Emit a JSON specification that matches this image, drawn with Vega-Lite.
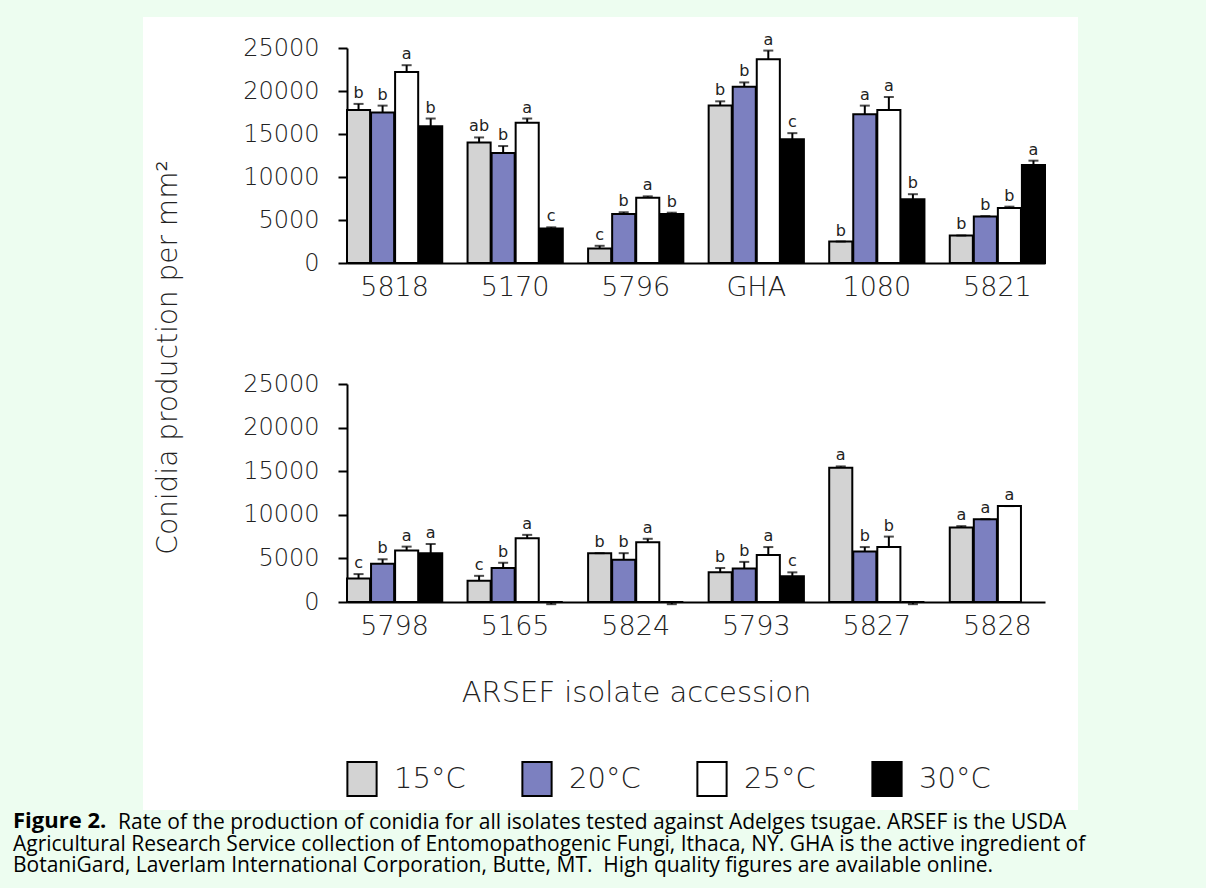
{
  "$schema": "https://vega.github.io/schema/vega-lite/v6.json",
  "background": "#EDFDF0",
  "padding": {"left": 13, "top": 17, "right": 128, "bottom": 12},
  "bounds": "flush",
  "spacing": 0,
  "title": {
    "text": "Figure 2.",
    "subtitle": [
      "\u2800\u2800\u2800\u2800\u2800\u2800\u2800Rate of the production of conidia for all isolates tested against Adelges tsugae. ARSEF is the USDA",
      "Agricultural Research Service collection of Entomopathogenic Fungi, Ithaca, NY. GHA is the active ingredient of",
      "BotaniGard, Laverlam International Corporation, Butte, MT.\u00a0 High quality figures are available online."
    ],
    "orient": "bottom",
    "anchor": "start",
    "frame": "bounds",
    "offset": 1,
    "dx": -130,
    "font": "Open Sans",
    "fontSize": 22,
    "fontWeight": "bold",
    "color": "black",
    "lineHeight": 20,
    "subtitleFont": "Open Sans",
    "subtitleFontSize": 21,
    "subtitleColor": "black",
    "subtitleLineHeight": 21.5,
    "subtitlePadding": -21
  },
  "datasets": {
    "bars": [
      {"p": 1, "iso": "5818", "temp": "15°C", "value": 17800, "err": 18500, "letter": "b"},
      {"p": 1, "iso": "5818", "temp": "20°C", "value": 17500, "err": 18300, "letter": "b"},
      {"p": 1, "iso": "5818", "temp": "25°C", "value": 22200, "err": 23000, "letter": "a"},
      {"p": 1, "iso": "5818", "temp": "30°C", "value": 15900, "err": 16800, "letter": "b"},
      {"p": 1, "iso": "5170", "temp": "15°C", "value": 14000, "err": 14600, "letter": "ab"},
      {"p": 1, "iso": "5170", "temp": "20°C", "value": 12800, "err": 13600, "letter": "b"},
      {"p": 1, "iso": "5170", "temp": "25°C", "value": 16300, "err": 16800, "letter": "a"},
      {"p": 1, "iso": "5170", "temp": "30°C", "value": 4000, "err": 4150, "letter": "c"},
      {"p": 1, "iso": "5796", "temp": "15°C", "value": 1700, "err": 2000, "letter": "c"},
      {"p": 1, "iso": "5796", "temp": "20°C", "value": 5700, "err": 5900, "letter": "b"},
      {"p": 1, "iso": "5796", "temp": "25°C", "value": 7600, "err": 7750, "letter": "a"},
      {"p": 1, "iso": "5796", "temp": "30°C", "value": 5700, "err": 5850, "letter": "b"},
      {"p": 1, "iso": "GHA", "temp": "15°C", "value": 18300, "err": 18800, "letter": "b"},
      {"p": 1, "iso": "GHA", "temp": "20°C", "value": 20500, "err": 21000, "letter": "b"},
      {"p": 1, "iso": "GHA", "temp": "25°C", "value": 23700, "err": 24700, "letter": "a"},
      {"p": 1, "iso": "GHA", "temp": "30°C", "value": 14400, "err": 15100, "letter": "c"},
      {"p": 1, "iso": "1080", "temp": "15°C", "value": 2500, "err": 2500, "letter": "b"},
      {"p": 1, "iso": "1080", "temp": "20°C", "value": 17300, "err": 18300, "letter": "a"},
      {"p": 1, "iso": "1080", "temp": "25°C", "value": 17800, "err": 19300, "letter": "a"},
      {"p": 1, "iso": "1080", "temp": "30°C", "value": 7400, "err": 8000, "letter": "b"},
      {"p": 1, "iso": "5821", "temp": "15°C", "value": 3200, "err": 3200, "letter": "b"},
      {"p": 1, "iso": "5821", "temp": "20°C", "value": 5400, "err": 5450, "letter": "b"},
      {"p": 1, "iso": "5821", "temp": "25°C", "value": 6400, "err": 6550, "letter": "b"},
      {"p": 1, "iso": "5821", "temp": "30°C", "value": 11400, "err": 11900, "letter": "a"},
      {"p": 2, "iso": "5798", "temp": "15°C", "value": 2700, "err": 3200, "letter": "c"},
      {"p": 2, "iso": "5798", "temp": "20°C", "value": 4400, "err": 4900, "letter": "b"},
      {"p": 2, "iso": "5798", "temp": "25°C", "value": 5900, "err": 6350, "letter": "a"},
      {"p": 2, "iso": "5798", "temp": "30°C", "value": 5600, "err": 6650, "letter": "a"},
      {"p": 2, "iso": "5165", "temp": "15°C", "value": 2450, "err": 3000, "letter": "c"},
      {"p": 2, "iso": "5165", "temp": "20°C", "value": 3900, "err": 4500, "letter": "b"},
      {"p": 2, "iso": "5165", "temp": "25°C", "value": 7300, "err": 7700, "letter": "a"},
      {"p": 2, "iso": "5165", "temp": "30°C", "value": 0, "err": -250, "letter": ""},
      {"p": 2, "iso": "5824", "temp": "15°C", "value": 5600, "err": 5600, "letter": "b"},
      {"p": 2, "iso": "5824", "temp": "20°C", "value": 4850, "err": 5600, "letter": "b"},
      {"p": 2, "iso": "5824", "temp": "25°C", "value": 6850, "err": 7250, "letter": "a"},
      {"p": 2, "iso": "5824", "temp": "30°C", "value": 0, "err": -250, "letter": ""},
      {"p": 2, "iso": "5793", "temp": "15°C", "value": 3400, "err": 3900, "letter": "b"},
      {"p": 2, "iso": "5793", "temp": "20°C", "value": 3850, "err": 4600, "letter": "b"},
      {"p": 2, "iso": "5793", "temp": "25°C", "value": 5400, "err": 6300, "letter": "a"},
      {"p": 2, "iso": "5793", "temp": "30°C", "value": 2950, "err": 3400, "letter": "c"},
      {"p": 2, "iso": "5827", "temp": "15°C", "value": 15400, "err": 15550, "letter": "a"},
      {"p": 2, "iso": "5827", "temp": "20°C", "value": 5800, "err": 6300, "letter": "b"},
      {"p": 2, "iso": "5827", "temp": "25°C", "value": 6300, "err": 7500, "letter": "b"},
      {"p": 2, "iso": "5827", "temp": "30°C", "value": 0, "err": -250, "letter": ""},
      {"p": 2, "iso": "5828", "temp": "15°C", "value": 8550, "err": 8700, "letter": "a"},
      {"p": 2, "iso": "5828", "temp": "20°C", "value": 9500, "err": 9500, "letter": "a"},
      {"p": 2, "iso": "5828", "temp": "25°C", "value": 11000, "err": 11000, "letter": "a"}
    ]
  },
  "config": {
    "view": {"stroke": null, "fill": "white"},
    "axis": {
      "grid": false,
      "domainColor": "black",
      "domainWidth": 2,
      "tickColor": "black",
      "tickWidth": 2,
      "labelColor": "#222222",
      "titleColor": "#222222",
      "labelFontWeight": 200,
      "titleFontWeight": 200
    }
  },
  "resolve": {
    "scale": {"color": "independent", "x": "independent", "y": "independent", "xOffset": "independent"},
    "legend": {"color": "independent"}
  },
  "vconcat": [
    {
      "width": 935,
      "height": 313,
      "data": {"name": "bars"},
      "transform": [{"filter": "datum.p == 1"}],
      "encoding": {
        "x": {
          "field": "iso", "type": "nominal", "sort": null,
          "scale": {"range": [204, 902], "paddingInner": 0.21, "paddingOuter": 0},
          "axis": {"title": null, "orient": "bottom", "offset": -67, "ticks": false, "tickSize": 0, "labelAngle": 0, "labelFont": "DejaVu Sans", "labelFontSize": 27, "labelPadding": 11}
        },
        "xOffset": {"field": "temp", "type": "nominal", "sort": ["15°C", "20°C", "25°C", "30°C"], "scale": {"paddingInner": 0.04}}
      },
      "layer": [
        {
          "mark": {"type": "bar", "stroke": "black", "strokeWidth": 2},
          "encoding": {
            "y": {
              "field": "value", "type": "quantitative",
              "scale": {"domain": [0, 25000], "range": [246, 31], "nice": false},
              "axis": {"title": null, "orient": "left", "offset": -204, "values": [0, 5000, 10000, 15000, 20000, 25000], "format": "d", "tickSize": 9, "labelFont": "DejaVu Sans", "labelFontSize": 24, "labelPadding": 19, "labelOverlap": false}
            },
            "color": {
              "field": "temp", "type": "nominal",
              "scale": {"domain": ["15°C", "20°C", "25°C", "30°C"], "range": ["#D3D3D3", "#7C80C0", "#FFFFFF", "#000000"]},
              "legend": null
            }
          }
        },
        {
          "mark": {"type": "rule", "strokeWidth": 2, "color": "black"},
          "encoding": {"y": {"field": "value", "type": "quantitative"}, "y2": {"field": "err"}}
        },
        {
          "mark": {"type": "tick", "thickness": 2, "size": 10, "color": "black"},
          "encoding": {"y": {"field": "err", "type": "quantitative"}}
        },
        {
          "mark": {"type": "text", "baseline": "bottom", "dy": -3, "font": "DejaVu Sans", "fontSize": 16, "color": "#222222"},
          "encoding": {"y": {"field": "err", "type": "quantitative"}, "text": {"field": "letter"}}
        }
      ]
    },
    {
      "width": 935,
      "height": 480,
      "data": {"name": "bars"},
      "transform": [{"filter": "datum.p == 2"}],
      "encoding": {
        "x": {
          "field": "iso", "type": "nominal", "sort": null,
          "scale": {"range": [204, 902], "paddingInner": 0.21, "paddingOuter": 0},
          "axis": {"title": "ARSEF isolate accession", "orient": "bottom", "offset": -208, "ticks": false, "tickSize": 0, "labelAngle": 0, "labelFont": "DejaVu Sans", "labelFontSize": 27, "labelPadding": 11, "titleFont": "DejaVu Sans", "titleFontSize": 29, "titleX": 493, "titleY": 90, "titleAlign": "center", "titleBaseline": "middle"}
        },
        "xOffset": {"field": "temp", "type": "nominal", "sort": ["15°C", "20°C", "25°C", "30°C"], "scale": {"paddingInner": 0.04}}
      },
      "layer": [
        {
          "mark": {"type": "bar", "stroke": "black", "strokeWidth": 2},
          "encoding": {
            "y": {
              "field": "value", "type": "quantitative",
              "scale": {"domain": [0, 25000], "range": [272, 54], "nice": false},
              "axis": {"title": "Conidia production per mm²", "orient": "left", "offset": -204, "values": [0, 5000, 10000, 15000, 20000, 25000], "format": "d", "tickSize": 9, "labelFont": "DejaVu Sans", "labelFontSize": 24, "labelPadding": 19, "labelOverlap": false, "titleFont": "DejaVu Sans", "titleFontSize": 28, "titleX": -179, "titleY": 27, "titleAngle": 270, "titleAlign": "center", "titleBaseline": "middle"}
            },
            "color": {
              "field": "temp", "type": "nominal",
              "scale": {"domain": ["15°C", "20°C", "25°C", "30°C"], "range": ["#D3D3D3", "#7C80C0", "#FFFFFF", "#000000"]},
              "legend": {
                "title": null, "orient": "none", "legendX": 201, "legendY": 431, "direction": "horizontal", "columns": 4,
                "padding": 0, "symbolType": "M-0.86,-1H0.86V1H-0.86Z", "symbolSize": 1156, "symbolStrokeColor": "black", "symbolStrokeWidth": 2, "symbolOpacity": 1,
                "labelFont": "DejaVu Sans", "labelFontSize": 29, "labelFontWeight": 200, "labelColor": "#222222", "labelOffset": 14, "columnPadding": 52, "labelLimit": 200
              }
            }
          }
        },
        {
          "mark": {"type": "rule", "strokeWidth": 2, "color": "black"},
          "encoding": {"y": {"field": "value", "type": "quantitative"}, "y2": {"field": "err"}}
        },
        {
          "mark": {"type": "tick", "thickness": 2, "size": 10, "color": "black"},
          "encoding": {"y": {"field": "err", "type": "quantitative"}}
        },
        {
          "mark": {"type": "text", "baseline": "bottom", "dy": -3, "font": "DejaVu Sans", "fontSize": 16, "color": "#222222"},
          "encoding": {"y": {"field": "err", "type": "quantitative"}, "text": {"field": "letter"}}
        }
      ]
    }
  ]
}
